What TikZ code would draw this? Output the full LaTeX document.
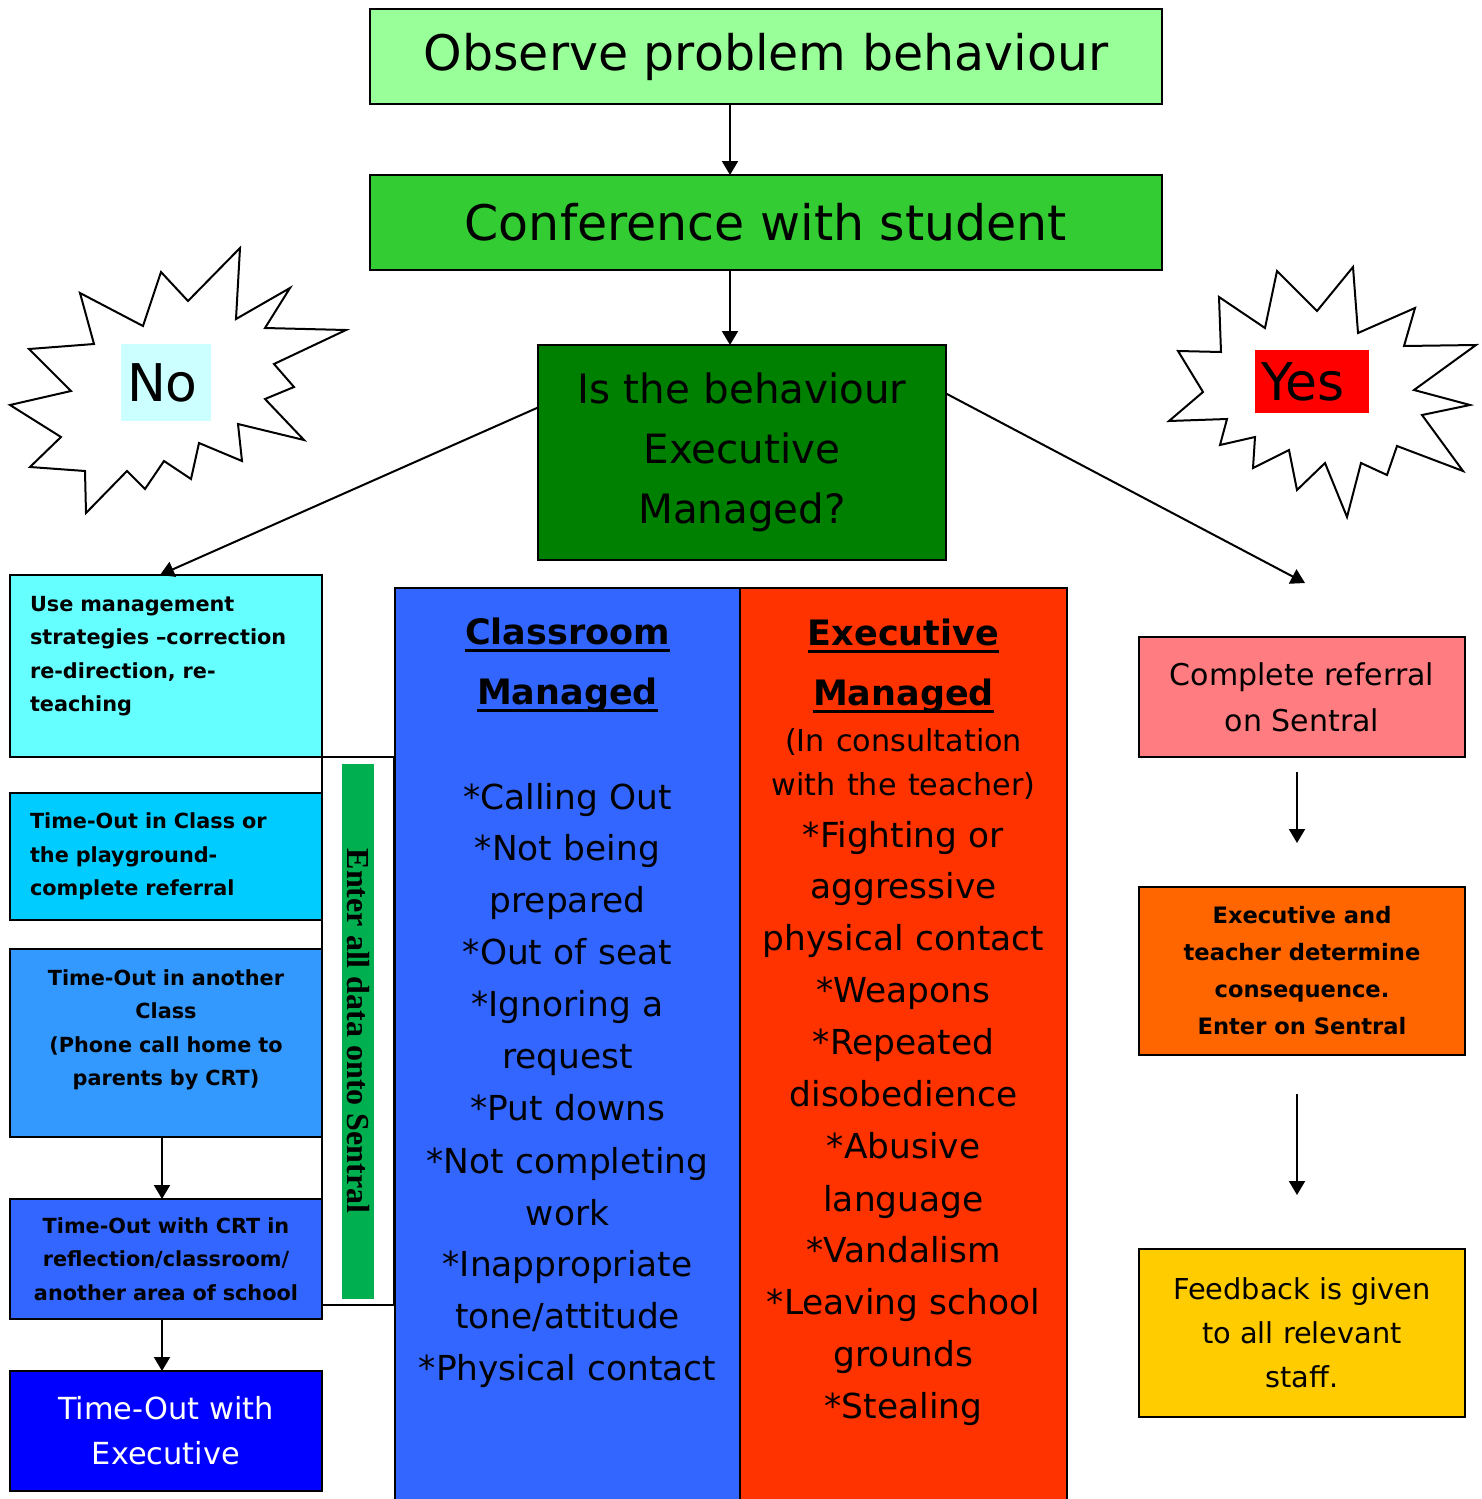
\documentclass[tikz,border=0pt]{standalone}
\usepackage{fontspec}
\setmainfont{DejaVu Sans}
\newfontfamily\barfont{Liberation Serif}
\usetikzlibrary{arrows.meta, positioning}
\definecolor{observegreen}{HTML}{99FF99}
\definecolor{conferencegreen}{HTML}{33CC33}
\definecolor{questiongreen}{HTML}{008000}
\definecolor{nocyan}{HTML}{CCFFFF}
\definecolor{yesred}{HTML}{FF0000}
\definecolor{managecyan}{HTML}{66FFFF}
\definecolor{classoutblue}{HTML}{00CCFF}
\definecolor{otherblue}{HTML}{3399FF}
\definecolor{crtblue}{HTML}{3366FF}
\definecolor{execblue}{HTML}{0000FF}
\definecolor{bargreen}{HTML}{00B050}
\definecolor{classblue}{HTML}{3366FF}
\definecolor{execred}{HTML}{FF3300}
\definecolor{referralpink}{HTML}{FF7C80}
\definecolor{determineorange}{HTML}{FF6600}
\definecolor{feedbackyellow}{HTML}{FFCC00}

\newcommand{\ulword}[1]{\leavevmode\setbox0=\hbox{#1}\rlap{\rule[-3.5pt]{\wd0}{1.5pt}}\box0}

\begin{document}
\begin{tikzpicture}[
        x=0.5pt, y=-0.5pt,
        box/.style={rectangle, draw, line width=1pt, inner sep=0pt, outer sep=0pt, align=center},
        topbox/.style={box, minimum width=396pt, minimum height=47.5pt, font=\fontsize{24.5}{30}\selectfont},
        leftbox/.style={box, minimum width=156pt, font=\bfseries\fontsize{10.4}{16.7}\selectfont},
        lefttext/.style={inner sep=0pt, font=\bfseries\fontsize{10.4}{16.7}\selectfont},
        rightbox/.style={box, minimum width=163pt},
        column/.style={rectangle, draw, line width=1pt, inner sep=0pt, outer sep=0pt, minimum height=457.5pt},
        coltext/.style={align=center, inner sep=0pt, text width=160pt, font=\fontsize{17.2}{26}\selectfont},
        burst/.style={draw, fill=white, line width=1pt, line join=miter},
        burstlabel/.style={align=left, inner ysep=0pt, inner xsep=3pt, font=\fontsize{26}{26}\selectfont},
        arrow/.style={-{Triangle[length=7pt, width=8pt]}, line width=1pt},
        node distance=1cm and 1cm
        ]

        \useasboundingbox (0,0) rectangle (1482,1499);

        % Nodes
        \node (observe) [topbox, fill=observegreen, anchor=north west] at (370,9) {Observe problem behaviour};
        \node (conference) [topbox, fill=conferencegreen, below=35.5pt of observe] {Conference with student};
        \node (question) [box, fill=questiongreen, minimum width=204pt, minimum height=107.5pt, text width=200pt, font=\fontsize{20.2}{30}\selectfont, below=37.5pt of conference, xshift=-12pt] {Is the behaviour\\Executive\\Managed?\par\vspace*{6pt}};

        % Starbursts
        \draw [burst] (240,248) -- (236,319) -- (290,288) -- (265,328) -- (346,330) -- (274,364) -- (294,387) -- (265,399) -- (304,440) -- (238,424) -- (242,461) -- (199,443) -- (191,479) -- (164,461) -- (145,489) -- (127,471) -- (86,513) -- (85,471) -- (30,467) -- (61,437) -- (10,405) -- (71,391) -- (29,349) -- (94,344) -- (80,293) -- (143,326) -- (161,272) -- (188,301) -- cycle;
        \node (no) [burstlabel, fill=nocyan, text width=39pt, minimum height=38.5pt] at (166,382.5) {No};
        \draw [burst] (1353,267) -- (1358,333) -- (1415,308) -- (1404,346) -- (1476,345) -- (1414,390) -- (1470,405) -- (1422,415) -- (1463,471) -- (1397,446) -- (1387,475) -- (1361,463) -- (1347,517) -- (1325,463) -- (1297,490) -- (1289,450) -- (1253,468) -- (1255,437) -- (1220,445) -- (1227,419) -- (1169,421) -- (1203,392) -- (1178,351) -- (1221,352) -- (1219,297) -- (1265,328) -- (1277,271) -- (1317,311) -- cycle;
        \node (yes) [burstlabel, fill=yesred, text width=51pt, minimum height=31.5pt] at (1312,381.5) {Yes};

        % Left column
        \node (manage) [leftbox, fill=managecyan, minimum height=91pt, anchor=north west] at (10,575) {};
        \node (managetext) [lefttext, align=left, text width=136pt] at ([yshift=5pt]manage.center) {Use management\\strategies –correction\\re-direction, re-\\teaching};
        \node (classout) [leftbox, fill=classoutblue, minimum height=63.5pt, align=left, text width=136pt, inner xsep=10pt, below=18pt of manage] {Time-Out in Class or\\the playground-\\complete referral};
        \node (otherclass) [leftbox, fill=otherblue, minimum height=94pt, below=14.5pt of classout] {};
        \node (otherclasstext) [lefttext, align=center, text width=150pt] at ([yshift=6.5pt]otherclass.center) {Time-Out in another\\Class\\(Phone call home to\\parents by CRT)};
        \node (crtout) [leftbox, fill=crtblue, minimum height=60pt, text width=150pt, inner xsep=3pt, below=31pt of otherclass] {Time-Out with CRT in\\reflection/classroom/\\another area of school};
        \node (execout) [leftbox, fill=execblue, text=white, minimum height=60pt, font=\fontsize{15.2}{22.5}\selectfont, below=26pt of crtout] {Time-Out with\\Executive};

        % Sentral strip
        \node (sentral) [rectangle, draw, line width=1pt, inner sep=0pt, outer sep=0pt, minimum width=36pt, minimum height=274pt, anchor=north west] at (manage.south east) {};
        \node (sentbar) [fill=bargreen, inner sep=0pt, rotate=-90, minimum width=267.5pt, minimum height=16pt, font=\barfont\bfseries\fontsize{16}{16}\selectfont] at (sentral.center) {Enter all data onto Sentral};

        % Middle columns
        \node (classcol) [column, fill=classblue, minimum width=172.5pt, anchor=north west] at (395,588) {};
        \node (execcol) [column, fill=execred, minimum width=163.5pt, right=0pt of classcol] {};
        \node (classtext) [coltext, anchor=north] at ([yshift=-15pt]classcol.north) {{\bfseries\fontsize{17.5}{26}\selectfont\ulword{Classroom}}\\[4pt]
            {\bfseries\fontsize{17.5}{26}\selectfont\ulword{Managed}}\\[26pt]
            *Calling Out\\{}*Not being\\prepared\\{}*Out of seat\\{}*Ignoring a\\request\\{}*Put downs\\{}*Not completing\\work\\{}*Inappropriate\\tone/attitude\\{}*Physical contact};
        \node (exectext) [coltext, anchor=north] at ([yshift=-15.5pt]execcol.north) {{\bfseries\fontsize{17.5}{26}\selectfont\ulword{Executive}}\\[4pt]
            {\bfseries\fontsize{17.5}{26}\selectfont\ulword{Managed}}\\[-3pt]
            {\fontsize{15.1}{26}\selectfont (In consultation}\\[-4pt]
            {\fontsize{15.1}{26}\selectfont with the teacher)}\\[-0.5pt]
            *Fighting or\\aggressive\\physical contact\\{}*Weapons\\{}*Repeated\\disobedience\\{}*Abusive\\language\\{}*Vandalism\\{}*Leaving school\\grounds\\{}*Stealing};

        % Right column
        \node (referral) [rightbox, fill=referralpink, minimum height=60pt, font=\fontsize{15}{23}\selectfont, anchor=north west] at (1139,637) {Complete referral\\on Sentral};
        \node (determine) [rightbox, fill=determineorange, minimum height=84pt, font=\bfseries\fontsize{11.3}{18.5}\selectfont, below=65pt of referral] {Executive and\\teacher determine\\consequence.\\Enter on Sentral};
        \node (feedback) [rightbox, fill=feedbackyellow, minimum height=84pt, font=\fontsize{14.4}{22}\selectfont, below=97pt of determine] {Feedback is given\\to all relevant\\staff.};
        \coordinate (yesend) at (1305,583);

        % Arrows
        \draw [arrow] ([xshift=-18pt]observe.south) -- ([xshift=-18pt]conference.north);
        \draw [arrow] ([xshift=-18pt]conference.south) -- ([xshift=-6pt]question.north);
        \draw [arrow] ([yshift=22.5pt]question.west) -- ([xshift=-3pt]manage.north);
        \draw [arrow] ([yshift=29.5pt]question.east) -- (yesend);
        \draw [arrow] ([xshift=-2pt]otherclass.south) -- ([xshift=-2pt]crtout.north);
        \draw [arrow] ([xshift=-2pt]crtout.south) -- ([xshift=-2pt]execout.north);
        \draw [arrow, shorten <=7.5pt, shorten >=22pt] ([xshift=-2.5pt]referral.south) -- ([xshift=-2.5pt]determine.north);
        \draw [arrow, shorten <=19.5pt, shorten >=27pt] ([xshift=-2.5pt]determine.south) -- ([xshift=-2.5pt]feedback.north);

    \end{tikzpicture}
\end{document}
